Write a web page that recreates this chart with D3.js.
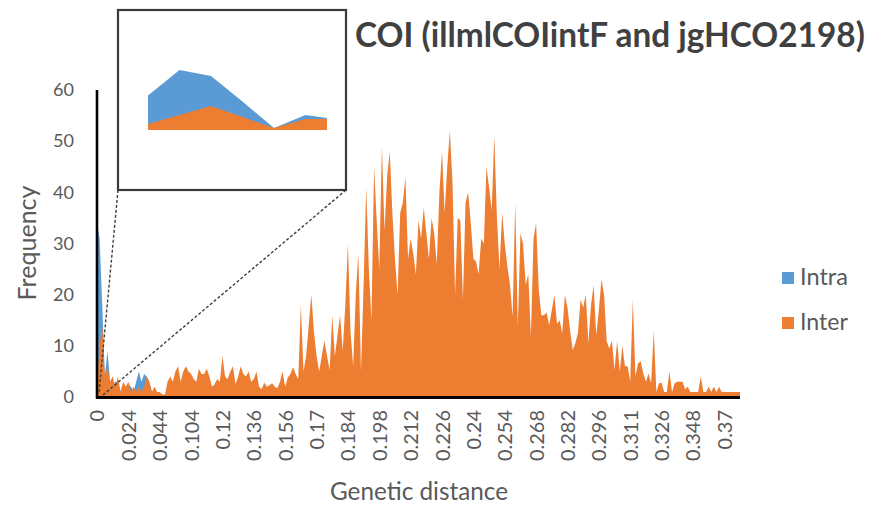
<!DOCTYPE html>
<html><head><meta charset="utf-8">
<script src="https://cdn.jsdelivr.net/npm/d3@7"></script>
<style>
html,body{margin:0;padding:0;background:#fff;}
svg{display:block;}
text{font-family:Lato,"Open Sans",sans-serif;}
</style></head>
<body><svg id="c" width="881" height="507"></svg>
<script>
// ---- data ----
const tickLabels = ["0","0.024","0.044","0.104","0.12","0.136","0.156","0.17","0.184","0.198","0.212","0.226","0.24","0.254","0.268","0.282","0.296","0.311","0.326","0.348","0.37"];
const labelEvery = 12;
const interValues = [
2,10,14,4,6,3,4,2,4,1,
3,2,3,1,2,1,2,1,2,4,
3,1,2,1,1,0.5,0.5,3,4,3,
5,6,3,5,6,5,4.5,3.5,3,5.5,
4.5,4.5,5.5,4,2,2.5,3.5,3,8,4,
3.5,5,6,2.5,4,6,4.5,4,5,3,
3.5,5,2,1.5,2.8,2,2.3,2.7,2,1.7,
3,5,2,3.8,4.5,5.8,4.5,3.5,18,5,
8,14,20,12.8,8,5,8,11,8,5.3,
16,8,12,16,9,18,30,12.7,6,20,
28,5,22,41,25,15,45,34.5,25,49,
32.5,43,48,36,27,20,36,38,43,27,
31,28,24,34.5,31,37,32,27,35,32,
26,40,48,36,45,52,42,20,35,34.5,
19,38,40,34,27,26.5,24,31,30,45,
41,36.5,51,35,25,36,30,25.5,22,15.7,
38,13.7,32,30,22,24,11.8,31,34,21,
16,16,16.5,14,17,20,14.3,15,12.4,20,
17.5,13,9.2,10.5,12.5,19,17.5,20,10.5,18,
21.9,12,17,23,20,10.9,9.5,11,5.3,11,
5,10,6,6,3,19,4,6.6,7,4.6,
3,4.6,2.7,13,1,2.7,2.8,1,1,5,
1,2.7,3,3,3,1.5,2,1,1,1,
1,4,1,1,2,1,2,1,2,1,
1,1,1,1,1,1,1];
const intraValues = [34,31,18,4,9,3,2,3,3,1,2,1,2.5,2,1,3,5,3,4.5,4,3,1,0,0];
const insetIntra = [23,40,36,19,1.3,10,7];
const insetInter = [4,10,16,8.7,1.3,7.3,7.3];
const yTicks = [0,10,20,30,40,50,60];
const seriesNames = ["Intra","Inter"];
const colors = {Intra:"#5B9BD5", Inter:"#ED7D31"};

// helper: scale font so that a text's width matches a target
function fit(sel, base, target){
  sel.style("font-size", base+"px");
  const w = sel.node().getComputedTextLength();
  sel.style("font-size", (base*target/w).toFixed(2)+"px");
  return base*target/w;
}

// ---- chart ----
const svg = d3.select("#c");
const N = interValues.length;
const x = d3.scaleLinear().domain([0, N-1]).range([97, 740]);
const y = d3.scaleLinear().domain([0, 60]).range([397, 90]);

const area = d3.area().x((d,i)=>x(i)).y0(y(0)).y1(d=>y(d));
svg.append("path").datum(intraValues).attr("d", area).attr("fill", colors.Intra);
svg.append("path").datum(interValues).attr("d", area).attr("fill", colors.Inter);

// y axis
const ya = svg.append("g").attr("transform","translate(97,0)")
  .call(d3.axisLeft(y).tickValues(yTicks).tickSize(0).tickPadding(23));
ya.select(".domain").remove();
const yfs = fit(ya.selectAll("text").filter(d=>d===60), 18, 21);
ya.selectAll("text").attr("fill","#595959").style("font-size",yfs+"px").style("font-family","Lato");
svg.append("line").attr("x1",97).attr("x2",97).attr("y1",y(60)).attr("y2",y(0)+1.5)
  .attr("stroke","#000").attr("stroke-width",2.6);

// x axis
const idx = tickLabels.map((t,i)=>i*labelEvery);
const xa = svg.append("g").attr("transform",`translate(0,${y(0)})`)
  .call(d3.axisBottom(x).tickValues(idx).tickSize(0).tickFormat(i=>tickLabels[i/labelEvery]));
xa.select(".domain").remove();
xa.selectAll("text").style("font-family","Lato");
const xfs = fit(xa.selectAll("text").filter(d=>d===12), 17, 51);
xa.selectAll("text")
  .attr("fill","#595959").style("font-size",xfs+"px")
  .attr("text-anchor","end").attr("transform","rotate(-90)")
  .attr("x",-13).attr("y",0).attr("dy","0.35em");
svg.append("line").attr("x1",96).attr("x2",740).attr("y1",y(0)+0.5).attr("y2",y(0)+0.5)
  .attr("stroke","#000").attr("stroke-width",2.8);

// axis titles
const xt = svg.append("text").attr("x",419).attr("y",500).attr("text-anchor","middle")
  .attr("fill","#595959").text("Genetic distance");
fit(xt, 20, 178);
const yt = svg.append("text").attr("transform","translate(36,243) rotate(-90)").attr("text-anchor","middle")
  .attr("fill","#595959").text("Frequency");
fit(yt, 20, 115);

// title
const title = svg.append("text").attr("x",355).attr("y",47)
  .attr("fill","#404040").style("font-weight","bold")
  .text("COI (illmlCOIintF and jgHCO2198)");
fit(title, 28, 510);

// legend
const leg = svg.append("g");
seriesNames.forEach((s,i)=>{
  const g = leg.append("g").attr("transform",`translate(782,${272+i*45})`);
  g.append("rect").attr("width",12).attr("height",12).attr("fill",colors[s]);
  const t = g.append("text").attr("x",18).attr("y",12.5).attr("fill","#595959").text(s);
  fit(t, 18, 48);
});

// zoom connector lines
svg.append("line").attr("x1",118).attr("y1",190).attr("x2",99).attr("y2",393)
  .attr("stroke","#404040").attr("stroke-width",1.4).attr("stroke-dasharray","3,2");
svg.append("line").attr("x1",346).attr("y1",190).attr("x2",103).attr("y2",395)
  .attr("stroke","#404040").attr("stroke-width",1.4).attr("stroke-dasharray","3,2");

// inset
svg.append("rect").attr("x",118).attr("y",10).attr("width",228).attr("height",180)
  .attr("fill","#fff").attr("stroke","#3a3a3a").attr("stroke-width",2.2);
svg.append("clipPath").attr("id","ic").append("rect").attr("x",148).attr("y",20).attr("width",179).attr("height",120);
const xi = d3.scaleLinear().domain([0,6]).range([148,337]);
const yi = d3.scaleLinear().domain([0,40]).range([130,70]);
const iarea = d3.area().x((d,i)=>xi(i)).y0(yi(0)).y1(d=>yi(d));
const ig = svg.append("g").attr("clip-path","url(#ic)");
ig.append("path").datum(insetIntra).attr("d",iarea).attr("fill",colors.Intra);
ig.append("path").datum(insetInter).attr("d",iarea).attr("fill",colors.Inter);
</script>
</body></html>
